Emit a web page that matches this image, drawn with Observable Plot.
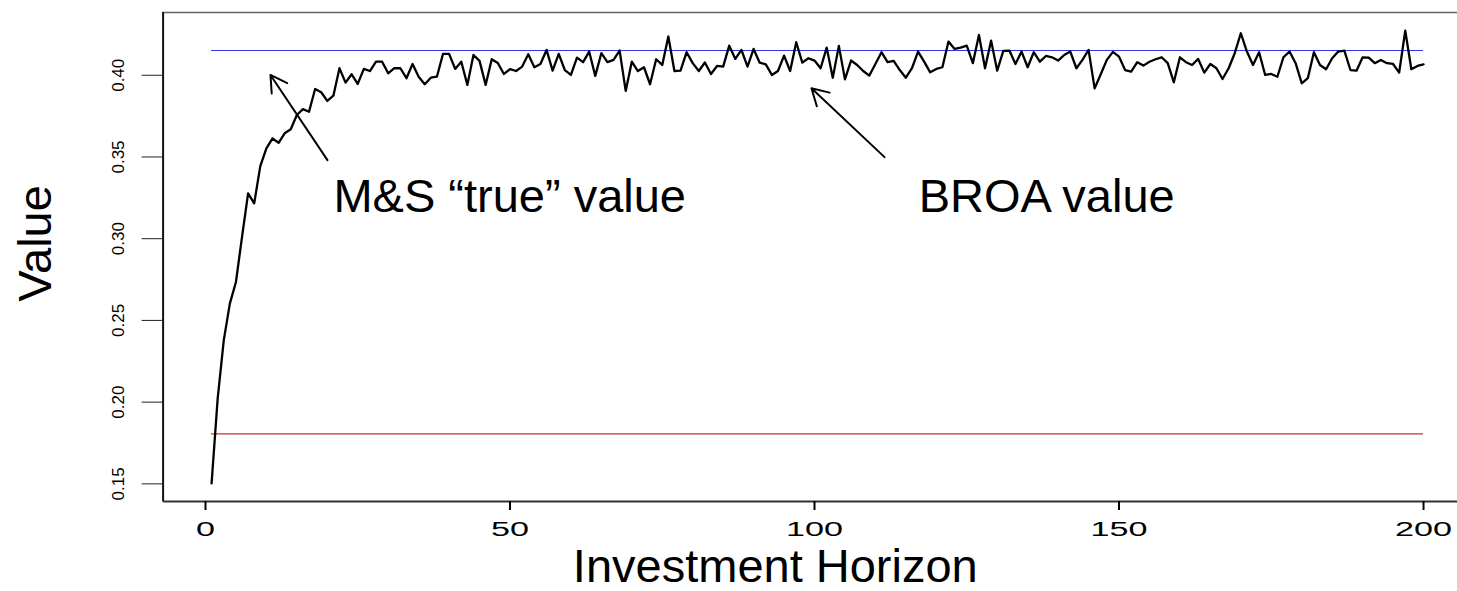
<!DOCTYPE html>
<html><head><meta charset="utf-8">
<script src="https://cdn.jsdelivr.net/npm/d3@7"></script>
<script src="https://cdn.jsdelivr.net/npm/@observablehq/plot@0.6"></script>
<style>html,body{margin:0;padding:0;background:#fff;overflow:hidden}</style>
</head><body><div id="chart"></div>
<script>
const horizon = d3.range(1, 201);
const broaValue = [
0.1503,0.2021,0.2378,0.2603,0.2735,0.3011,0.3277,0.3216,0.3444,0.3553,
0.3614,0.3587,0.3645,0.3670,0.3757,0.3793,0.3777,0.3916,0.3896,0.3843,
0.3875,0.4043,0.3955,0.4006,0.3947,0.4039,0.4026,0.4083,0.4083,0.4012,
0.4043,0.4043,0.3982,0.4069,0.3991,0.3945,0.3985,0.3991,0.4131,0.4131,
0.4039,0.4083,0.3941,0.4124,0.4088,0.3941,0.4098,0.4075,0.4008,0.4037,
0.4026,0.4053,0.4129,0.4049,0.4069,0.4155,0.4028,0.4131,0.4032,0.4002,
0.4108,0.4080,0.4145,0.3996,0.4135,0.4080,0.4094,0.4151,0.3904,0.4083,
0.4026,0.4049,0.3945,0.4098,0.4063,0.4237,0.4026,0.4028,0.4141,0.4074,
0.4026,0.4078,0.4008,0.4057,0.4053,0.4181,0.4100,0.4155,0.4053,0.4161,
0.4077,0.4067,0.4002,0.4026,0.4120,0.4026,0.4202,0.4077,0.4104,0.4090,
0.4043,0.4169,0.3985,0.4180,0.3975,0.4090,0.4063,0.4026,0.3998,0.4069,
0.4141,0.4080,0.4088,0.4032,0.3985,0.4043,0.4145,0.4083,0.4018,0.4039,
0.4049,0.4206,0.4161,0.4169,0.4181,0.4074,0.4247,0.4043,0.4212,0.4028,
0.4149,0.4151,0.4069,0.4145,0.4049,0.4141,0.4083,0.4118,0.4110,0.4090,
0.4124,0.4145,0.4043,0.4094,0.4155,0.3920,0.4006,0.4094,0.4143,0.4114,
0.4032,0.4022,0.4080,0.4059,0.4083,0.4098,0.4110,0.4074,0.3957,0.4110,
0.4080,0.4063,0.4100,0.4016,0.4069,0.4043,0.3977,0.4043,0.4135,0.4257,
0.4145,0.4063,0.4141,0.4002,0.4008,0.3991,0.4110,0.4145,0.4074,0.3951,
0.3982,0.4141,0.4063,0.4037,0.4104,0.4145,0.4151,0.4032,0.4028,0.4110,
0.4108,0.4074,0.4094,0.4074,0.4069,0.4016,0.4273,0.4037,0.4057,0.4067
];
const msTrueValue = 0.4149;
const lowerValue = 0.1806;
const xTicks = [0, 50, 100, 150, 200];
const yTicks = [0.15, 0.20, 0.25, 0.30, 0.35, 0.40];
const xDomain = [-6.96, 207.96];
const yDomain = [0.1392, 0.4384];
const annotationLabels = ["M&S “true” value", "BROA value"];
const annotationX = [21.0, 117.1];
const annotationY = [0.3257, 0.3257];
const arrowTail = [[20.03, 0.3481], [111.5, 0.3499]];
const arrowTip = [[10.67, 0.4002], [99.5, 0.3920]];

const series = horizon.map((h, i) => ({h, v: broaValue[i]}));
const annotations = annotationLabels.map((label, i) => ({label, x: annotationX[i], y: annotationY[i]}));
const arrows = arrowTail.map((t, i) => ({x1: t[0], y1: t[1], x2: arrowTip[i][0], y2: arrowTip[i][1]}));
const font = "'Liberation Sans', Arial, Helvetica, sans-serif";

const chart = Plot.plot({
  width: 1457, height: 591,
  marginLeft: 162.6, marginRight: 0, marginTop: 12, marginBottom: 90,
  style: {fontFamily: font, fontSize: "20px", background: "white", overflow: "hidden", color: "black"},
  x: {domain: xDomain, range: [162.6, 1471.5]},
  y: {domain: yDomain},
  marks: [
    Plot.ruleY([msTrueValue], {x1: horizon[0], x2: horizon[horizon.length - 1], stroke: "#3434e8", strokeWidth: 1, shapeRendering: "crispEdges"}),
    Plot.ruleY([lowerValue], {x1: horizon[0], x2: horizon[horizon.length - 1], stroke: "#c83232", strokeWidth: 1.2}),
    Plot.line(series, {x: "h", y: "v", stroke: "black", strokeWidth: 2.3}),
    Plot.ruleY([yDomain[1]], {stroke: "#666", strokeWidth: 1.5}),
    Plot.ruleY([yDomain[0]], {stroke: "#333", strokeWidth: 2}),
    Plot.ruleX([xDomain[0]], {stroke: "#111", strokeWidth: 2}),
    Plot.axisY({ticks: yTicks, tickSize: 21, tickPadding: 18, tickRotate: -90, tickFormat: d3.format(".2f"), fontSize: 17, label: null, stroke: "#222"}),
    Plot.axisX({ticks: xTicks, tickSize: 9, tickPadding: 11, fontSize: 20, label: null, strokeWidth: 2}),
    Plot.arrow(arrows, {x1: "x1", y1: "y1", x2: "x2", y2: "y2", stroke: "black", strokeWidth: 2, headLength: 14, headAngle: 60}),
    Plot.text(annotations, {x: "x", y: "y", text: "label", textAnchor: "start", fontSize: 47}),
    Plot.text(["Value"], {frameAnchor: "left", dx: -127.6, dy: -13.5, rotate: -90, textAnchor: "middle", lineAnchor: "middle", fontSize: 47}),
    Plot.text(["Investment Horizon"], {frameAnchor: "bottom", dx: -35, dy: 65, textAnchor: "middle", lineAnchor: "middle", fontSize: 47})
  ]
});
chart.querySelectorAll('g[aria-label="x-axis tick label"] text').forEach(t => {
  t.setAttribute("textLength", t.textContent.length * 19);
  t.setAttribute("lengthAdjust", "spacingAndGlyphs");
});
document.getElementById("chart").appendChild(chart);
</script>
</body></html>
